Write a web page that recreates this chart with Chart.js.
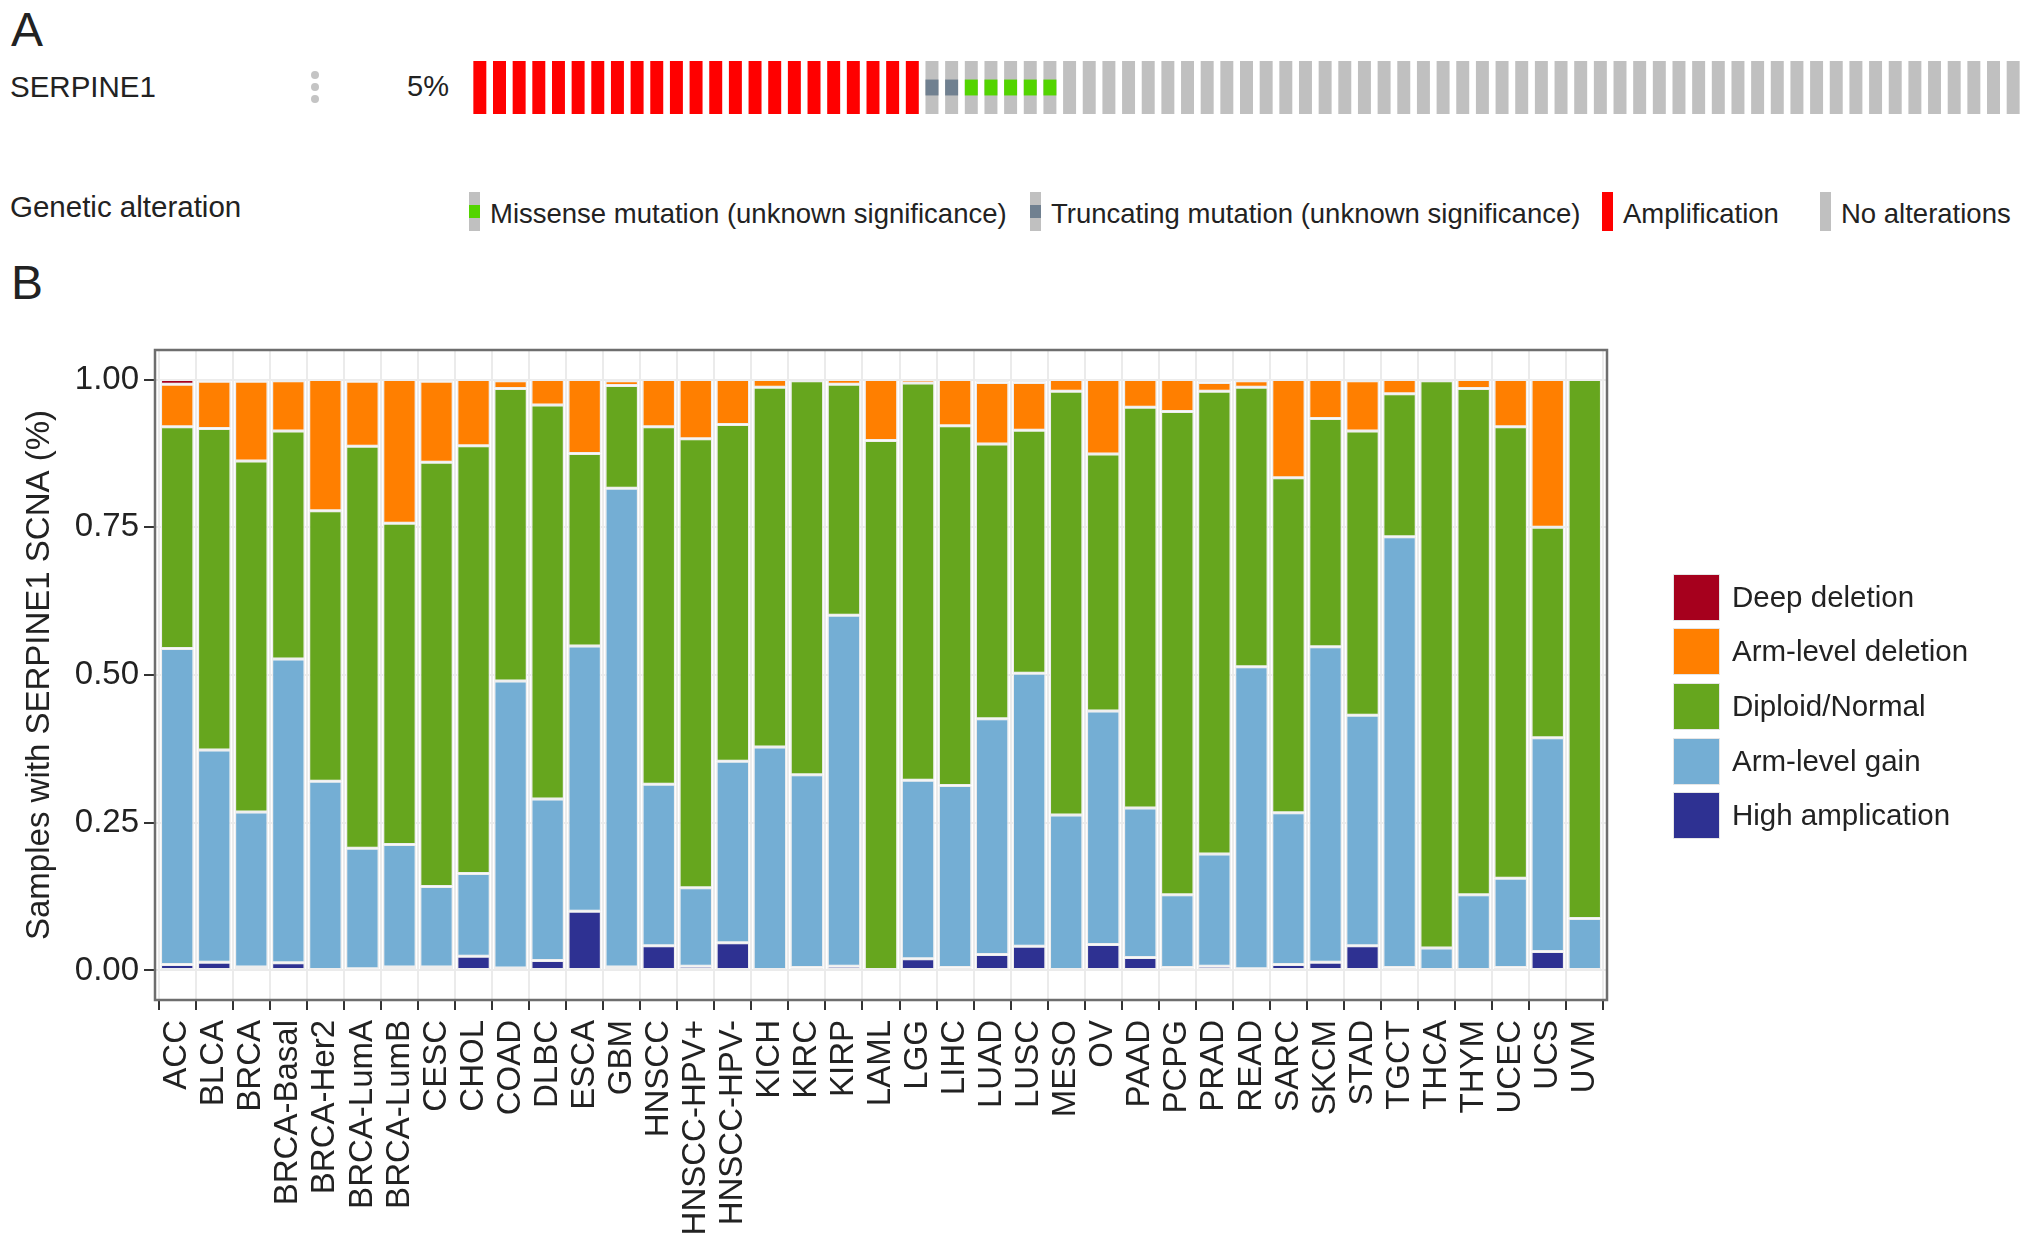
<!DOCTYPE html>
<html>
<head>
<meta charset="utf-8">
<title>SERPINE1 genetic alteration and SCNA</title>
<script src="https://cdn.jsdelivr.net/npm/chart.js@4.4.1/dist/chart.umd.min.js"></script>
<style>
  html, body { margin: 0; padding: 0; background: #fff; }
  body { width: 2032px; height: 1250px; position: relative; overflow: hidden;
         font-family: "Liberation Sans", Arial, Helvetica, sans-serif; color: #222; }
  .txt { position: absolute; white-space: nowrap; line-height: 1; }
  canvas { position: absolute; }
  .dot { position: absolute; width: 8px; height: 8px; border-radius: 50%; background: #c4c4c4; }
  .mark { position: absolute; width: 11px; height: 39px; }
  .mark i { position: absolute; left: 0; width: 100%; top: 13px; height: 13px; }
  .box { position: absolute; width: 47px; height: 47px; box-sizing: border-box; border: 1px solid #e6e6e6; }
</style>
</head>
<body>
<div class="txt" style="left:11px;top:6px;font-size:48px">A</div>
<div class="txt" style="left:10px;top:72px;font-size:29.5px">SERPINE1</div>
<div class="dot" style="left:311px;top:71px"></div>
<div class="dot" style="left:311px;top:83px"></div>
<div class="dot" style="left:311px;top:95px"></div>
<div class="txt" style="left:380px;top:72px;width:69px;text-align:right;font-size:29px">5%</div>
<canvas id="oncoprint" width="1553" height="53" style="left:470px;top:61px"></canvas>
<div class="txt" style="left:10px;top:192px;font-size:29.5px">Genetic alteration</div>
<div id="legendA"></div>

<div class="txt" style="left:11px;top:259px;font-size:48px">B</div>
<canvas id="scna" width="2032" height="1000" style="left:0;top:250px"></canvas>
<div id="legendB"></div>

<script>
// ---- Panel A: oncoprint, runs of samples from left to right
const alterationTypes = ['Missense mutation (unknown significance)', 'Truncating mutation (unknown significance)', 'Amplification', 'No alterations'];
const alterationRunTypes = ['Amplification', 'Truncating mutation (unknown significance)', 'Missense mutation (unknown significance)', 'No alterations'];
const alterationRunCounts = [23, 2, 5, 49];

// ---- Panel B: SCNA fraction per cancer type
const cancerTypes = ['ACC', 'BLCA', 'BRCA', 'BRCA-Basal', 'BRCA-Her2', 'BRCA-LumA', 'BRCA-LumB', 'CESC', 'CHOL', 'COAD',
  'DLBC', 'ESCA', 'GBM', 'HNSCC', 'HNSCC-HPV+', 'HNSCC-HPV-', 'KICH', 'KIRC', 'KIRP', 'LAML',
  'LGG', 'LIHC', 'LUAD', 'LUSC', 'MESO', 'OV', 'PAAD', 'PCPG', 'PRAD', 'READ',
  'SARC', 'SKCM', 'STAD', 'TGCT', 'THCA', 'THYM', 'UCEC', 'UCS', 'UVM'];
const highAmplification = [0.010, 0.014, 0.006, 0.013, 0, 0.003, 0.006, 0.006, 0.024, 0.004,
  0.017, 0.100, 0.006, 0.042, 0.007, 0.047, 0, 0.005, 0.007, 0,
  0.020, 0.005, 0.027, 0.041, 0, 0.044, 0.022, 0.005, 0.007, 0.003,
  0.010, 0.014, 0.042, 0.005, 0, 0, 0.005, 0.032, 0];
const armLevelGain = [0.535, 0.359, 0.262, 0.514, 0.320, 0.204, 0.207, 0.136, 0.140, 0.486,
  0.273, 0.449, 0.810, 0.273, 0.133, 0.307, 0.378, 0.326, 0.594, 0,
  0.302, 0.308, 0.399, 0.462, 0.263, 0.395, 0.253, 0.123, 0.190, 0.511,
  0.257, 0.534, 0.390, 0.729, 0.038, 0.128, 0.151, 0.362, 0.088];
const diploidNormal = [0.375, 0.544, 0.594, 0.386, 0.458, 0.680, 0.544, 0.718, 0.724, 0.495,
  0.667, 0.326, 0.174, 0.605, 0.760, 0.570, 0.609, 0.667, 0.391, 0.897,
  0.672, 0.609, 0.465, 0.411, 0.717, 0.435, 0.678, 0.818, 0.783, 0.473,
  0.567, 0.386, 0.481, 0.242, 0.960, 0.857, 0.764, 0.356, 0.912];
const armLevelDeletion = [0.072, 0.080, 0.135, 0.085, 0.222, 0.110, 0.243, 0.137, 0.112, 0.013,
  0.043, 0.125, 0.008, 0.080, 0.100, 0.076, 0.013, 0.002, 0.008, 0.103,
  0.006, 0.078, 0.104, 0.081, 0.020, 0.126, 0.047, 0.054, 0.015, 0.011,
  0.166, 0.066, 0.085, 0.024, 0.002, 0.015, 0.080, 0.250, 0];
const deepDeletion = [0.008, 0.003, 0.003, 0.002, 0, 0.003, 0, 0.003, 0, 0.002,
  0, 0, 0.002, 0, 0, 0, 0, 0, 0, 0,
  0, 0, 0.005, 0.005, 0, 0, 0, 0, 0.005, 0.002,
  0, 0, 0.002, 0, 0, 0, 0, 0, 0];
const yTicks = [0, 0.25, 0.5, 0.75, 1];

// ---- colours
const alterationColors = {
  'Missense mutation (unknown significance)': '#53d400',
  'Truncating mutation (unknown significance)': '#708090',
  'Amplification': '#ff0000',
  'No alterations': '#c0c0c0'
};
const scnaSeries = [
  { label: 'High amplication', values: highAmplification, color: '#2e3192' },
  { label: 'Arm-level gain', values: armLevelGain, color: '#74aed4' },
  { label: 'Diploid/Normal', values: diploidNormal, color: '#66a61e' },
  { label: 'Arm-level deletion', values: armLevelDeletion, color: '#ff7f00' },
  { label: 'Deep deletion', values: deepDeletion, color: '#a6001d' }
];

// ================= Panel A =================
const samples = [];
alterationRunTypes.forEach((t, k) => {
  for (let n = 0; n < alterationRunCounts[k]; n++) samples.push(t);
});
const isMutation = t => t.indexOf('mutation') !== -1;

// dataset 0 is painted last by Chart.js, so the mutation marks go first
new Chart(document.getElementById('oncoprint'), {
  type: 'bar',
  data: {
    labels: samples.map((t, i) => 'sample ' + (i + 1)),
    datasets: [
      {
        data: samples.map(t => isMutation(t) ? [0.35, 0.65] : null),
        backgroundColor: samples.map(t => isMutation(t) ? alterationColors[t] : 'rgba(0,0,0,0)'),
        barPercentage: 0.66, categoryPercentage: 1, grouped: false
      },
      {
        data: samples.map(() => 1),
        backgroundColor: samples.map(t => t === 'Amplification' ? alterationColors[t] : alterationColors['No alterations']),
        barPercentage: 0.66, categoryPercentage: 1, grouped: false
      }
    ]
  },
  options: {
    responsive: false,
    animation: false,
    layout: { padding: 0 },
    plugins: { legend: { display: false }, tooltip: { enabled: false } },
    scales: {
      x: { display: false },
      y: { display: false, min: 0, max: 1 }
    }
  }
});

// legend of panel A
const legendAx = [469, 1030, 1602, 1820];
document.getElementById('legendA').innerHTML = alterationTypes.map((t, k) => {
  const full = isMutation(t) ? alterationColors['No alterations'] : alterationColors[t];
  const inner = isMutation(t) ? '<i style="background:' + alterationColors[t] + '"></i>' : '';
  return '<div class="mark" style="left:' + legendAx[k] + 'px;top:192px;background:' + full + '">' + inner + '</div>' +
    '<div class="txt" style="left:' + (legendAx[k] + 21) + 'px;top:200px;font-size:27.5px">' + t + '</div>';
}).join('');

// ================= Panel B =================
const panelBorder = {
  id: 'panelBorder',
  afterDatasetsDraw(chart) {
    const { ctx, chartArea: a } = chart;
    ctx.save();
    ctx.strokeStyle = '#6e6e6e';
    ctx.lineWidth = 2.5;
    ctx.strokeRect(a.left, a.top, a.right - a.left, a.bottom - a.top);
    ctx.restore();
  }
};

new Chart(document.getElementById('scna'), {
  type: 'bar',
  data: {
    datasets: scnaSeries.map(s => ({
      label: s.label,
      data: cancerTypes.map((c, i) => ({ x: i, y: s.values[i] })),
      backgroundColor: s.color,
      borderColor: '#eeeeee',
      borderWidth: 1.5,
      borderSkipped: false,
      barPercentage: 0.9,
      categoryPercentage: 1
    }))
  },
  options: {
    responsive: false,
    animation: false,
    layout: { padding: { left: 0, top: 100, right: 425, bottom: 0 } },
    plugins: { legend: { display: false }, tooltip: { enabled: false } },
    scales: {
      x: {
        type: 'linear', min: -0.6, max: cancerTypes.length - 0.4, stacked: true, offset: false,
        afterBuildTicks: axis => { axis.ticks = cancerTypes.map((c, i) => ({ value: i })); },
        afterFit: axis => { axis.height = 250; },
        ticks: {
          autoSkip: false, minRotation: 90, maxRotation: 90, padding: 10, color: '#222',
          font: { family: '"Liberation Sans", Arial, sans-serif', size: 33 },
          callback: v => cancerTypes[v]
        },
        grid: { color: '#ebebeb', lineWidth: 2, tickColor: '#333', tickLength: 10, tickWidth: 2 },
        border: { display: false }
      },
      y: {
        min: -0.05, max: 1.05, stacked: true,
        afterBuildTicks: axis => { axis.ticks = yTicks.map(v => ({ value: v })); },
        afterFit: axis => { axis.width = 155; },
        ticks: {
          padding: 5, color: '#222',
          font: { family: '"Liberation Sans", Arial, sans-serif', size: 33 },
          callback: v => v.toFixed(2)
        },
        grid: { color: '#ebebeb', lineWidth: 2, tickColor: '#333', tickLength: 11, tickWidth: 2 },
        border: { display: false },
        title: {
          display: true, text: 'Samples with SERPINE1 SCNA (%)', color: '#222',
          font: { family: '"Liberation Sans", Arial, sans-serif', size: 33 },
          padding: { top: 20, bottom: 0 }
        }
      }
    }
  },
  plugins: [panelBorder]
});

// legend of panel B (top to bottom, reverse of stacking order)
const legendBRows = [597, 651, 706, 761, 815];
document.getElementById('legendB').innerHTML = scnaSeries.slice().reverse().map((s, k) =>
  '<div class="box" style="left:1673px;top:' + (legendBRows[k] - 23) + 'px;background:' + s.color + '"></div>' +
  '<div class="txt" style="left:1732px;top:' + (legendBRows[k] - 15) + 'px;font-size:29.5px">' + s.label + '</div>'
).join('');
</script>
</body>
</html>
